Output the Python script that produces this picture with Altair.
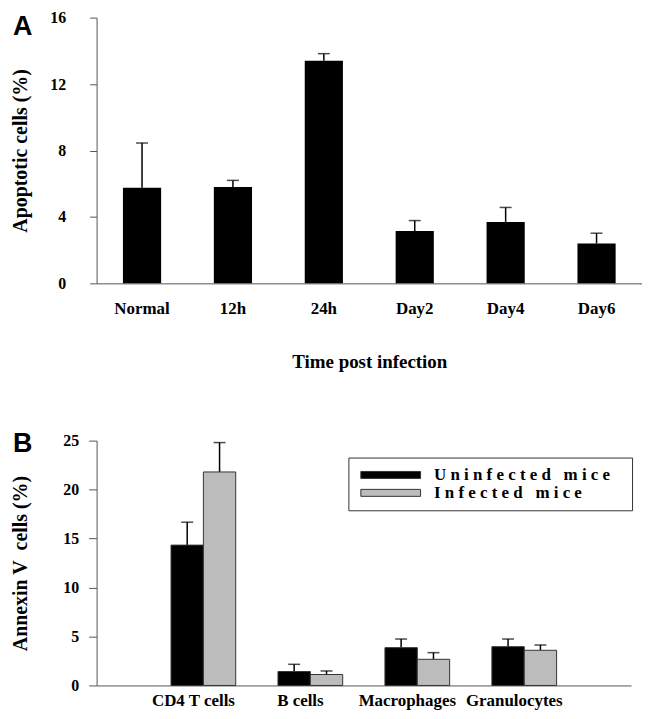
import altair as alt
import pandas as pd

# ---------------- Panel A data ----------------
time_points = ["Normal", "12h", "24h", "Day2", "Day4", "Day6"]
apoptotic_mean = [5.75, 5.8, 13.4, 3.15, 3.7, 2.4]
apoptotic_err_top = [8.45, 6.2, 13.83, 3.78, 4.57, 3.02]
y_ticks_a = [0, 4, 8, 12, 16]

# ---------------- Panel B data ----------------
cell_types = ["CD4 T cells", "B cells", "Macrophages", "Granulocytes"]
groups = ["Uninfected mice", "Infected mice"]
uninfected_mean = [14.33, 1.42, 3.86, 3.96]
uninfected_err_top = [16.67, 2.16, 4.74, 4.74]
infected_mean = [21.8, 1.12, 2.67, 3.59]
infected_err_top = [24.8, 1.48, 3.35, 4.13]
y_ticks_b = [0, 5, 10, 15, 20, 25]
group_colors = ["#000000", "#bcbcbc"]

SERIF = "Liberation Serif"
SANS = "Liberation Sans"
AXIS_COLOR = "#555555"
NBSP = "\u00a0"
ZWSP = "\u200b"

dfA = pd.DataFrame({"time": time_points, "mean": apoptotic_mean, "err": apoptotic_err_top})

rows = []
for i, c in enumerate(cell_types):
    rows.append({"cell": c, "group": groups[0], "mean": uninfected_mean[i], "err": uninfected_err_top[i]})
    rows.append({"cell": c, "group": groups[1], "mean": infected_mean[i], "err": infected_err_top[i]})
dfB = pd.DataFrame(rows)

# ---------------- Panel A ----------------
xA = alt.X(
    "time:N", sort=time_points, title="Time post infection",
    scale=alt.Scale(paddingInner=0.58, paddingOuter=0.29),
    axis=alt.Axis(labelAngle=0, labelAlign="center", ticks=False, labelPadding=25, titlePadding=37,
                  labelFont=SERIF, labelFontSize=17, labelFontWeight="bold", labelColor="black",
                  titleFont=SERIF, titleFontSize=19, titleFontWeight="bold", titleColor="black",
                  domainColor=AXIS_COLOR, domainWidth=1),
)
yA_scale = alt.Scale(domain=[0, 16], nice=False)
yA_axis = alt.Axis(values=y_ticks_a, grid=False, tickSize=7, tickColor=AXIS_COLOR, tickWidth=1,
                   labelPadding=24, titlePadding=19,
                   labelFont=SERIF, labelFontSize=16, labelFontWeight="bold", labelColor="black",
                   titleFont=SERIF, titleFontSize=20, titleFontWeight="bold", titleColor="black",
                   domainColor=AXIS_COLOR, domainWidth=1)
yA_title = "Apoptotic cells (%)"

baseA = alt.Chart(dfA)
barsA = baseA.mark_bar(color="black").encode(
    x=xA, y=alt.Y("mean:Q", scale=yA_scale, axis=yA_axis, title=yA_title))
ruleA = baseA.mark_rule(color="black", strokeWidth=1.5).encode(
    x=alt.X("time:N", sort=time_points), y=alt.Y("mean:Q", title=yA_title), y2="err:Q")
capA = baseA.mark_tick(color="black", size=12, thickness=1.5).encode(
    x=alt.X("time:N", sort=time_points), y=alt.Y("err:Q", title=yA_title))
labelA = alt.Chart(pd.DataFrame({"panel": ["A"]})).mark_text(
    font=SANS, fontSize=27, fontWeight="bold", color="black", align="left", baseline="top"
).encode(text="panel:N", x=alt.value(-84), y=alt.value(-4))

panelA = alt.layer(ruleA, barsA, capA, labelA).properties(width=548, height=267)

# ---------------- Panel B ----------------
xB = alt.X(
    "cell:N", sort=cell_types, title=None,
    scale=alt.Scale(paddingInner=0.395, paddingOuter=0.696),
    axis=alt.Axis(labelAngle=0, labelAlign="center", ticks=False, labelPadding=15, labelOffset=-10,
                  labelFont=SERIF, labelFontSize=17, labelFontWeight="bold", labelColor="black",
                  domainColor=AXIS_COLOR, domainWidth=1),
)
xoffB = alt.XOffset("group:N", sort=groups, scale=alt.Scale(paddingInner=0, paddingOuter=0))
yB_scale = alt.Scale(domain=[0, 25], nice=False)
yB_title = "Annexin V" + NBSP + NBSP + "cells (%)"
yB_axis = alt.Axis(values=y_ticks_b, grid=False, tickSize=8, tickColor=AXIS_COLOR, tickWidth=1,
                   labelPadding=10, titlePadding=32,
                   labelFont=SERIF, labelFontSize=16, labelFontWeight="bold", labelColor="black",
                   titleFont=SERIF, titleFontSize=20, titleFontWeight="bold", titleColor="black",
                   domainColor=AXIS_COLOR, domainWidth=1)

legend_label_expr = ("join(split(datum.label, ''), '" + NBSP + "') + '"
                     + NBSP * 3 + ZWSP + "'")

baseB = alt.Chart(dfB)
barsB = baseB.mark_bar(stroke="#333333", strokeWidth=1).encode(
    x=xB, xOffset=xoffB,
    y=alt.Y("mean:Q", scale=yB_scale, axis=yB_axis, title=yB_title),
    color=alt.Color("group:N", sort=groups,
                    scale=alt.Scale(domain=groups, range=group_colors),
                    legend=alt.Legend(
                        title=None, orient="none", legendX=253, legendY=442, direction="vertical",
                        symbolType="M-6,-0.7H6V0.7H-6Z", symbolSize=100, symbolOffset=25,
                        symbolStrokeColor="#333333", symbolStrokeWidth=1, symbolOpacity=1,
                        labelOffset=35, labelFont=SERIF, labelFontSize=17, labelFontWeight="bold",
                        labelColor="black", labelLimit=0, labelExpr=legend_label_expr,
                        padding=9, rowPadding=0, strokeColor="#333333")),
)
ruleB = baseB.mark_rule(color="black", strokeWidth=1.5).encode(
    x=alt.X("cell:N", sort=cell_types), xOffset=xoffB,
    y=alt.Y("mean:Q", title=yB_title), y2="err:Q")
capB = baseB.mark_tick(color="black", size=12, thickness=1.5).encode(
    x=alt.X("cell:N", sort=cell_types), xOffset=xoffB,
    y=alt.Y("err:Q", title=yB_title))
labelB = alt.Chart(pd.DataFrame({"panel": ["B"]})).mark_text(
    font=SANS, fontSize=27, fontWeight="bold", color="black", align="left", baseline="top"
).encode(text="panel:N", x=alt.value(-84), y=alt.value(-10))

panelB = alt.layer(ruleB, barsB, capB, labelB).properties(width=537, height=246)

chart = alt.vconcat(panelA, panelB, spacing=58).properties(
    padding={"left": 3, "top": 0, "right": 0, "bottom": 0},
    background="white",
).configure_view(stroke=None)

chart.save("out.html", embed_options={"renderer": "svg", "actions": False})
